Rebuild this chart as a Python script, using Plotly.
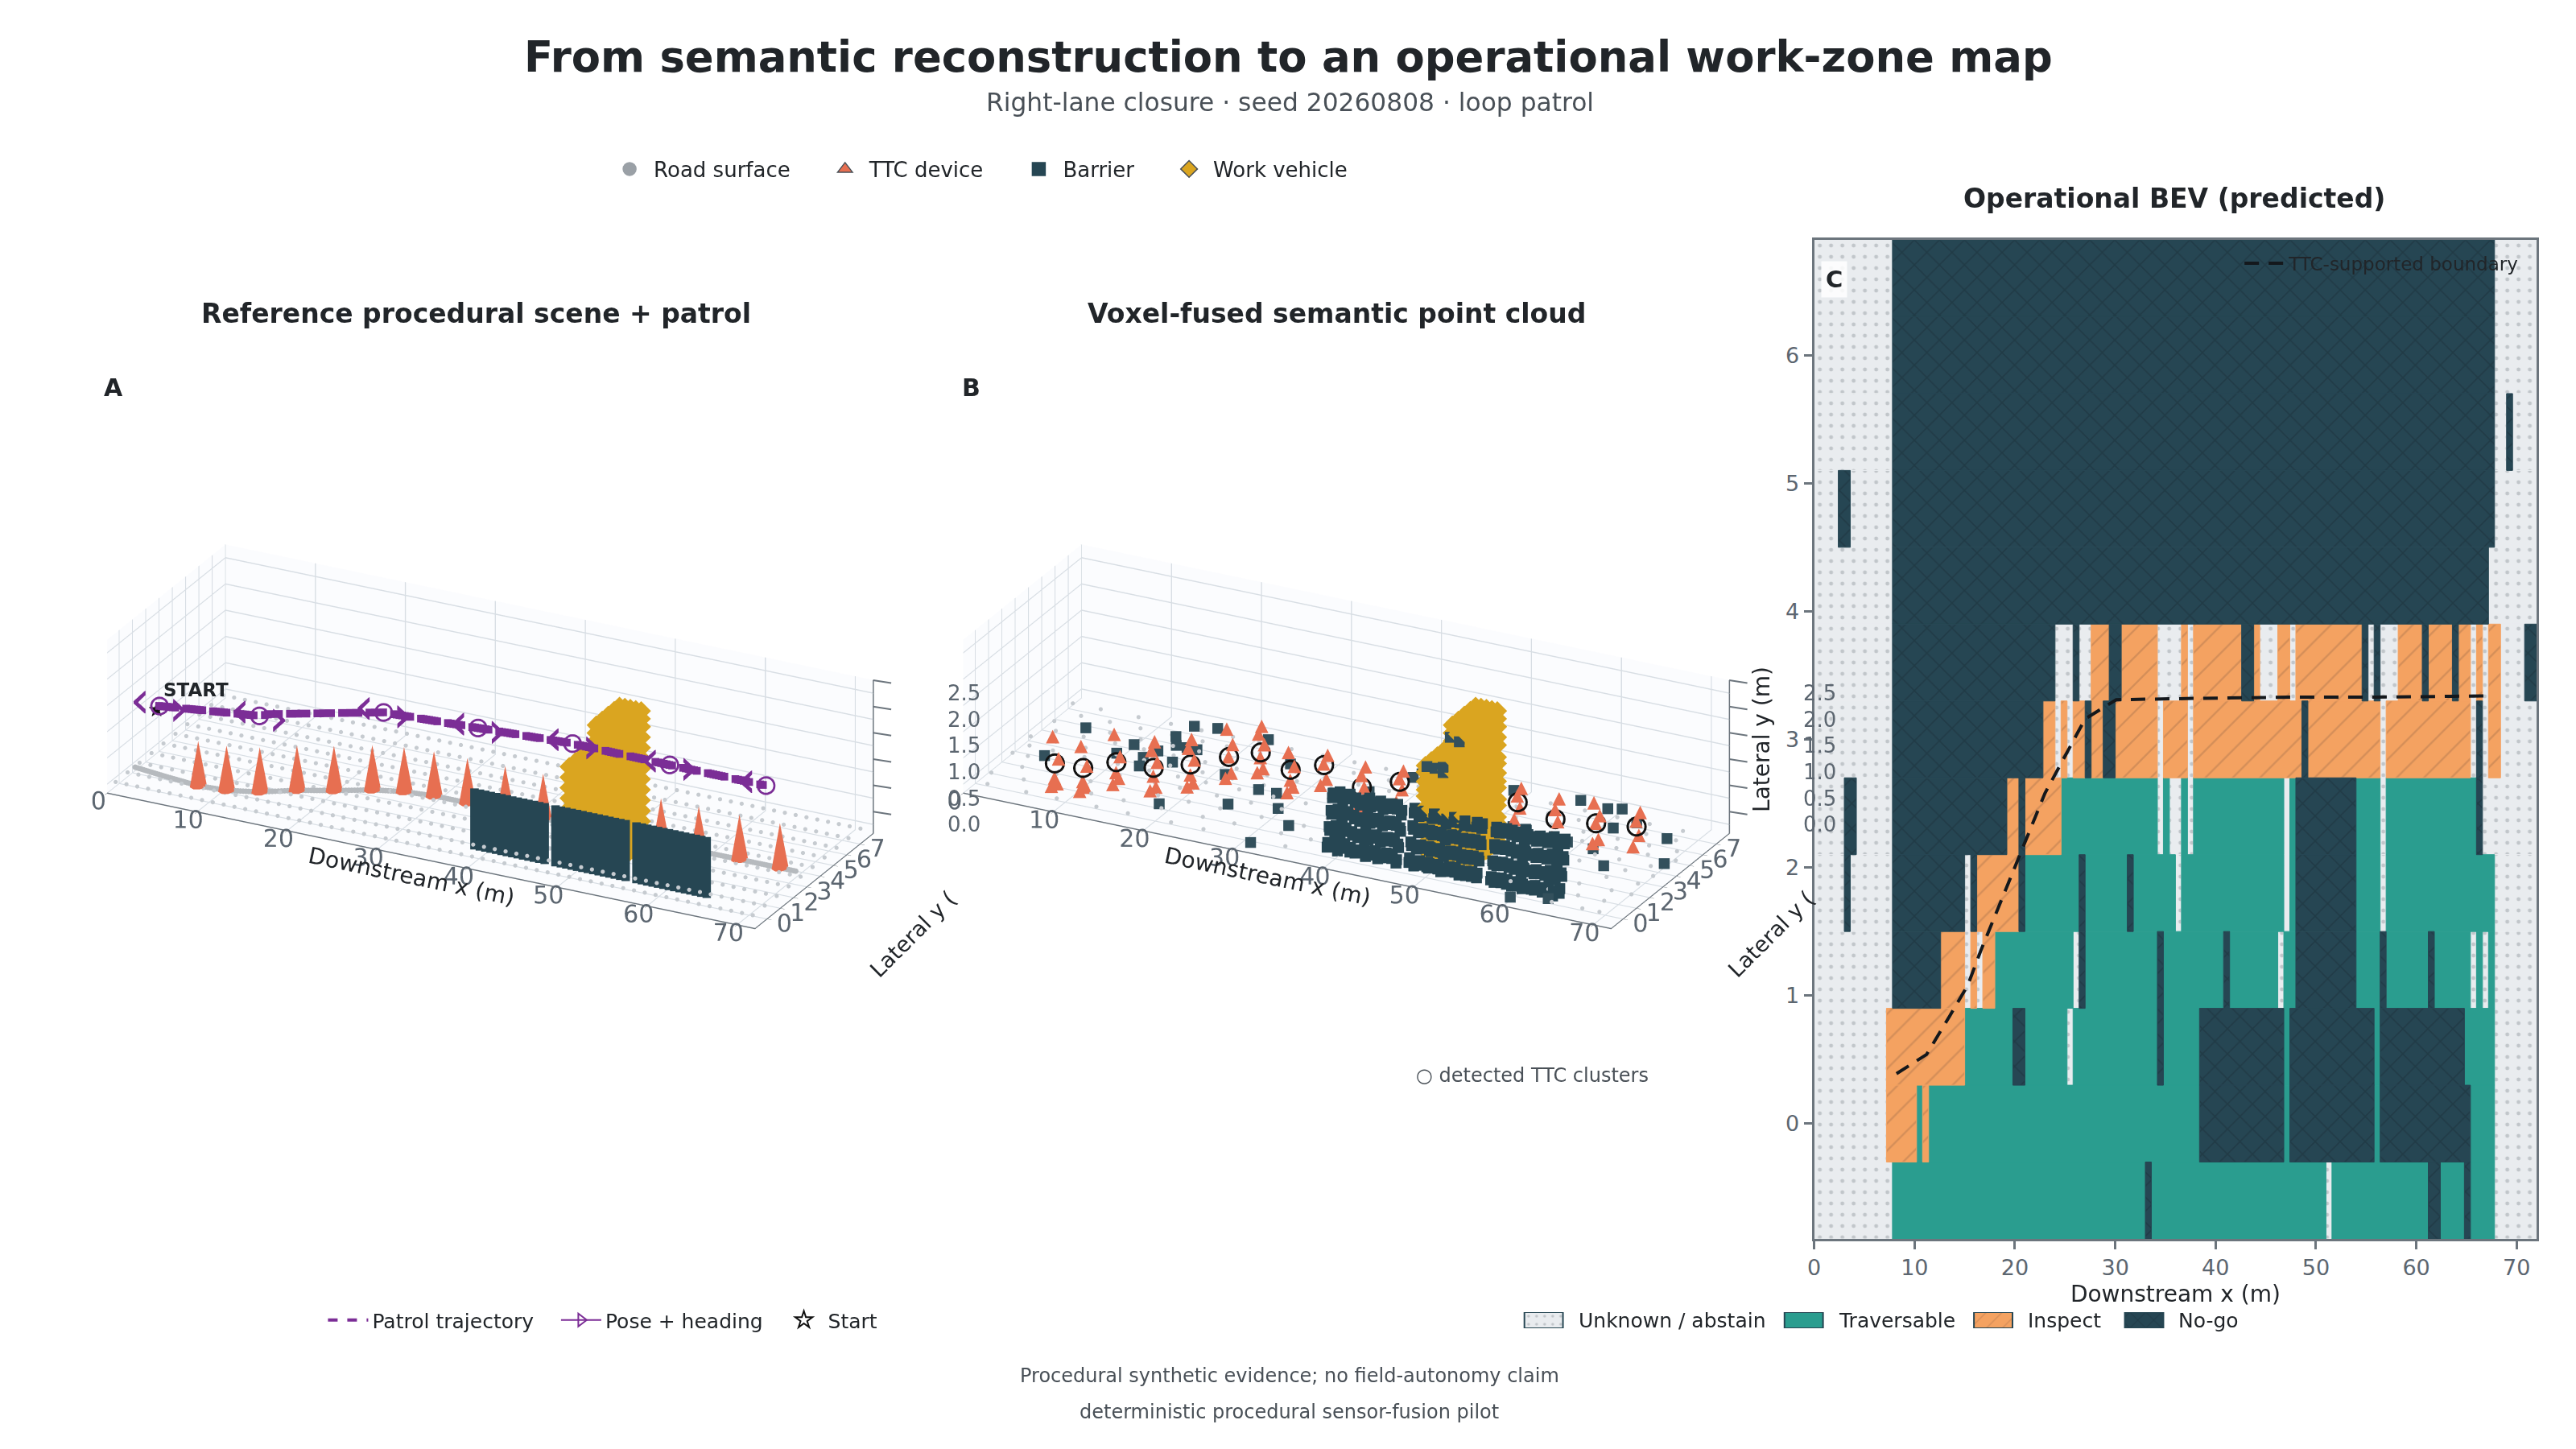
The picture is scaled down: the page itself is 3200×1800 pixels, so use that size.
import math
import plotly.graph_objects as go

# ── colours ───────────────────────────────────────────────────────────────────
INK = "#212529"
SLATE = "#495057"
TICK = "#5C6670"
EDGE = "#6C757D"
GRID = "#D8DEE4"
PANE = "#FBFCFE"
ROAD = "#9AA0A6"
ROAD_DOT = "#C6CBD0"
TTC = "#E76F51"
BARRIER = "#264653"
VEHICLE = "#DAA520"
PATROL = "#7B2D96"
FONT = "DejaVu Sans"

# ── BEV grid: 0.6 m cells, each row as run lengths of a class ────────────────
CELL = 0.6
BEV_Y = [6.6, 6.0, 5.4, 4.8, 4.2, 3.6, 3.0, 2.4, 1.8, 1.2, 0.6, 0.0, -0.6]
BEV_RUNS = [
    "U13 N100 U7",
    "U13 N100 U7",
    "U13 N100 U2 N1 U4",
    "U4 N2 U7 N100 U7",
    "U13 N99 U8",
    "U13 N27 U3 N1 U2 I3 N2 I6 U4 I1 U1 I8 N2 I1 U3 I2 U1 I11 N1 U1 N1 U3 I4 N1 I4 N1 I2 U1 I1 U1 I2 U4 N2",
    "U13 N25 I2 U1 I1 U1 I2 N1 I2 N2 I7 U1 I4 U1 I18 N1 I12 U1 I14 U1 N1 U1 I2 U6",
    "U5 N2 U6 N19 I2 N1 I6 T16 U1 T1 U2 T1 U1 T15 U1 T1 N10 T4 U1 T15 N1 U9",
    "U5 N1 U7 N12 U1 N1 I7 N1 T9 N1 T7 N1 T7 U1 T17 U1 T1 N10 T4 U1 T18 U7",
    "U13 N8 I4 U1 I1 U1 I2 T13 U1 N1 T12 N1 T10 N1 T8 U1 T2 N10 T4 N1 T7 N1 T6 U1 T1 U1 T1 U7",
    "U12 I13 T8 N2 T7 U1 T14 N1 T6 N14 T1 N14 T1 N14 T5 U7",
    "U12 I5 T1 I1 T45 N14 T1 N14 T1 N15 T4 U7",
    "U13 T42 N1 T29 U1 T16 N2 T4 N1 T4 U7",
]
BOUNDARY_X = [8.2, 11.2, 13.5, 15.3, 16.6, 17.9, 20.4, 23.0, 27.0, 30.1, 37.8, 47.4, 56.0, 67.3]
BOUNDARY_Y = [0.39, 0.54, 0.84, 1.08, 1.35, 1.60, 2.08, 2.58, 3.16, 3.31, 3.32, 3.33, 3.33, 3.34]

# ── 3D scene values ───────────────────────────────────────────────────────────
TTC_X = [8.2, 11.2, 14.3, 17.4, 20.7, 24.0, 27.0, 30.1, 33.8, 38.0, 42.2, 46.5, 51.0, 55.3, 59.5, 64.0, 68.5]
TTC_Y = [0.4, 0.5, 0.9, 1.6, 2.15, 2.8, 3.16, 3.31, 3.32, 3.32, 3.33, 3.33, 3.33, 3.33, 3.33, 3.34, 3.34]
CONE_H = 0.85
CONE_RX = 0.8
CONE_RY = 0.35

GROUND_X = [0.6, 4.0, 8.2, 11.2, 14.3, 17.4, 20.7, 24.0, 27.0, 30.1, 38.0, 46.5, 55.3, 64.0, 70.5]
GROUND_Y = [0.8, 0.6, 0.4, 0.5, 0.9, 1.6, 2.15, 2.8, 3.16, 3.31, 3.32, 3.33, 3.33, 3.34, 3.34]

ROAD_X = [0.5, 1.7, 2.9, 4.1, 5.3, 6.5, 7.7, 8.9, 10.1, 11.3, 12.5, 13.7, 14.9, 16.1, 17.3, 18.5, 19.7, 20.9,
          22.1, 23.3, 24.5, 25.7, 26.9, 28.1, 29.3, 30.5, 31.7, 32.9, 34.1, 35.3, 36.5, 37.7, 38.9, 40.1,
          41.3, 42.5, 43.7, 44.9, 46.1, 47.3, 48.5, 49.7, 50.9, 52.1, 53.3, 54.5, 55.7, 56.9, 58.1, 59.3,
          60.5, 61.7, 62.9, 64.1, 65.3, 66.5, 67.7, 68.9, 70.1, 71.3]
ROAD_Y = [-0.6, 0.3, 1.2, 2.1, 3.0, 3.9, 4.8, 5.7, 6.6, 7.5]

BARRIER_A_X = [38.6, 39.2, 39.8, 40.4, 41.0, 41.6, 42.2, 42.8, 43.4, 44.0, 44.6, 45.2, 45.8, 46.4,
               47.6, 48.2, 48.8, 49.4, 50.0, 50.6, 51.2, 51.8, 52.4, 53.0, 53.6, 54.2, 54.8, 55.4,
               56.6, 57.2, 57.8, 58.4, 59.0, 59.6, 60.2, 60.8, 61.4, 62.0, 62.6, 63.2, 63.8, 64.4]
BARRIER_A_Z = [-0.08, 0.02, 0.12, 0.22, 0.32, 0.42, 0.52, 0.62, 0.72, 0.82, 0.92]
BARRIER_Y = 0.6

BODY_X = [48.6, 49.2, 49.8, 50.4, 51.0, 51.6, 52.2, 52.8, 53.4, 54.0]
BODY_Y = [0.95, 1.4, 1.85, 2.3, 2.7]
BODY_Z = [0.1, 0.3, 0.5, 0.7, 0.9, 1.1, 1.3, 1.5, 1.7]
CAB_X = [51.6, 52.2, 52.8, 53.4, 54.0]
CAB_Z = [1.9, 2.1, 2.3, 2.45, 2.6]

# poses along the patrol, and the line between them
PATROL_X = [3.7, 14.8, 16.1, 28.6, 39.1, 49.6, 60.4, 71.1]
PATROL_Y = [0.5, 0.5, 0.5, 0.5, 0.5, 0.5, 0.5, 0.5]
PATROL_Z = [1.34, 1.55, 1.63, 2.11, 2.19, 2.27, 2.25, 2.24]
POSE_X = [3.7, 14.8, 28.6, 39.1, 49.6, 60.4, 71.1]
POSE_Y = [0.5, 0.5, 0.5, 0.5, 0.5, 0.5, 0.5]
POSE_Z = [1.34, 1.55, 2.11, 2.19, 2.27, 2.25, 2.24]
CHEVRON_DX = 2.2

# panel B, fused cloud
B_ROAD_Y = [-0.5, 0.4, 1.3, 2.2, 3.0, 3.7, 4.5, 5.2, 6.0, 6.8]
B_ROAD_X = [
    [2.1, 6.4, 9.8, 14.2, 17.7, 22.5, 26.1, 31.6, 35.2, 60.3, 64.8, 68.2, 70.1],
    [1.2, 4.8, 8.6, 12.3, 15.9, 20.1, 24.7, 28.2, 33.4, 36.7, 58.9, 63.1, 66.4, 69.3],
    [3.3, 7.1, 10.9, 13.6, 18.4, 21.8, 25.3, 29.9, 34.6, 37.3, 56.2, 59.7, 65.2, 68.8, 71.0],
    [0.9, 2.6, 5.9, 9.2, 12.8, 16.7, 19.5, 23.6, 27.4, 30.8, 35.9, 39.4, 44.1, 56.8, 61.6, 66.9, 70.4],
    [1.6, 4.2, 7.7, 11.4, 14.9, 18.1, 21.2, 24.9, 28.7, 32.3, 36.1, 40.7, 44.6, 47.5, 55.3, 58.4, 62.7, 67.8, 70.9],
    [0.7, 3.5, 6.8, 10.2, 13.3, 16.2, 19.8, 23.1, 26.6, 29.4, 33.8, 37.6, 41.2, 45.3, 55.9, 59.2, 63.4, 66.1, 69.6],
    [2.3, 5.4, 8.9, 12.1, 15.4, 18.9, 22.4, 25.8, 29.1, 32.9, 36.4, 39.9, 43.2, 46.8, 49.9, 53.6, 57.1, 60.8, 64.6, 68.1, 71.2],
    [1.1, 4.5, 7.3, 10.7, 14.3, 17.2, 20.6, 24.2, 27.9, 31.2, 34.9, 38.3, 41.9, 45.8, 48.7, 52.4, 56.4, 59.9, 63.7, 67.2, 70.3],
    [2.9, 6.1, 9.5, 13.0, 16.4, 19.1, 22.8, 26.4, 30.1, 33.2, 37.1, 40.4, 44.4, 47.9, 51.3, 54.8, 58.2, 61.9, 65.7, 69.0],
    [0.8, 3.9, 8.1, 11.7, 15.1, 18.6, 21.5, 25.1, 28.6, 32.1, 35.6, 39.2, 42.8, 46.2, 50.2, 53.9, 57.7, 61.3, 64.9, 68.6],
]
# triangle heights per device, relative to a cluster centred on 0.5
B_TTC_Z = [
    [0.05, 0.12, 0.22, 0.6, 1.0], [0.04, 0.14, 0.24, 0.55, 0.9], [0.06, 0.2, 0.3, 0.62, 1.02],
    [0.05, 0.14, 0.34, 0.62, 0.82, 1.0], [0.06, 0.16, 0.3, 0.6, 0.8, 0.98], [0.08, 0.2, 0.5, 0.75, 1.02],
    [0.1, 0.2, 0.4, 0.66, 0.84, 1.0], [0.05, 0.18, 0.3, 0.58, 0.82], [0.1, 0.24, 0.52, 0.7],
    [0.12, 0.5, 0.72, 0.9], [0.1, 0.36, 0.56, 0.72], [0.1, 0.4, 0.6], [0.1, 0.4, 0.62],
    [0.16, 0.4, 0.62, 0.78], [0.14, 0.46, 0.68, 0.9], [0.1, 0.2, 0.5, 0.66, 0.88], [0.1, 0.34, 0.6, 0.78],
]
B_TTC_DX = [-0.35, 0.3, 0.0, 0.45, -0.2, 0.15]
CLUSTER_Z = [0.43, 0.43, 0.57, 0.43, 0.5, 0.63, 0.75, 0.5, 0.72, 0.45, 0.7, 0.6, 0.7, 0.78, 0.61, 0.69, 0.79]

NOISE_X = [4.6, 4.0, 10.1, 10.7, 12.9, 13.5, 13.5, 14.5, 13.5, 16.0, 15.7, 16.8, 14.0, 16.3, 22.0, 26.6, 22.0,
           26.6, 28.6, 19.4, 25.5, 30.4, 33.2, 31.7, 36.6, 38.9, 39.3, 40.1, 49.2, 56.2, 59.5, 60.8, 59.6,
           62.1, 63.6, 68.0, 70.5, 65.4, 62.6, 60.6, 64.1, 54.5, 53.1, 44.9, 51.6, 52.6, 49.0, 49.9, 50.8, 50.8]
NOISE_Y = [5.2, 2.5, 3.8, 4.7, 3.9, 3.2, 5.95, 5.3, 4.6, 4.0, 5.3, 5.3, 7.0, 7.2, 7.15, 5.7, 3.9, 3.3, 3.3,
           0.7, 1.75, 2.2, 1.1, -0.75, 4.85, 6.6, 7.0, 7.2, 7.2, 7.5, 7.3, 7.5, 4.2, 5.95, 6.7, 6.0, 4.1, 3.0,
           4.1, -0.78, -0.3, 4.5, 4.5, 4.7, 0.8, 0.8, 0.8, 0.8, 0.8, 0.8]
NOISE_Z = [0.0, 0.0, 0.0, 0.0, 0.0, 0.0, 0.0, 0.0, 0.0, 0.0, 0.0, 0.0, 0.0, 0.0, 0.0, 0.0, 0.0, 0.0, 0.0,
           0.0, 0.0, 0.0, 0.0, 0.0, 0.0, 0.0, 0.0, 0.0, 0.0, 0.0, 0.0, 0.0, 0.0, 0.0, 0.0, 0.0, 0.0, 0.0,
           0.0, 0.0, 0.0, 0.0, 0.0, 0.0, 2.4, 2.35, 1.75, 1.75, 1.8, 1.7]

B_BARRIER_X = [38.5, 39.1, 39.8, 40.3, 41.1, 41.6, 42.4, 42.9, 43.7, 44.2, 45.0, 45.5, 46.3,
               47.5, 48.2, 48.7, 49.4, 49.9, 50.7, 51.2, 52.0, 52.5, 53.3, 53.8, 54.6, 55.1,
               56.5, 57.2, 57.7, 58.5, 59.0, 59.8, 60.3, 61.1, 61.6, 62.4, 62.9, 63.7, 64.2]
B_BARRIER_Z = [-0.08, 0.0, 0.2, 0.28, 0.48, 0.56, 0.78, 0.86]
B_BARRIER_Y = [0.4, 0.45, 0.6, 0.55, 0.75, 0.7, 0.8, 0.85]
B_BARRIER_DZ = [0.0, 0.02, -0.01, 0.03, 0.01, -0.03, 0.02]
B_BARRIER_DY = [0.0, 0.12, -0.1, 0.06, -0.05]

B_BODY_Z = [0.12, 0.24, 0.46, 0.58, 0.8, 0.92, 1.14, 1.26, 1.42, 1.6, 1.72]
B_CAB_Z = [1.95, 2.1, 2.3, 2.45, 2.6]

Z_TICK_VALS = [0.0, 0.5, 1.0, 1.5, 2.0, 2.5]
Z_TICKS = ["0.0", "0.5", "1.0", "1.5", "2.0", "2.5"]

# ── figure text ───────────────────────────────────────────────────────────────
TITLE = "From semantic reconstruction to an operational work-zone map"
SUBTITLE = "Right-lane closure · seed 20260808 · loop patrol"
FOOT_1 = "Procedural synthetic evidence; no field-autonomy claim"
FOOT_2 = "deterministic procedural sensor-fusion pilot"
PAD = "\u00a0" * 4


def cross_xy(xs, ys):
    px, py = [], []
    for y in ys:
        for x in xs:
            px.append(x)
            py.append(y)
    return px, py


def cross_xyz(xs, ys, zs):
    px, py, pz = [], [], []
    for z in zs:
        for y in ys:
            for x in xs:
                px.append(x)
                py.append(y)
                pz.append(z)
    return px, py, pz


def cone_mesh(xs, ys, scene):
    vx, vy, vz, i, j, k = [], [], [], [], [], []
    sides = 8
    for cx, cy in zip(xs, ys):
        start = len(vx)
        for s in range(sides):
            a = 2 * math.pi * s / sides
            vx.append(cx + CONE_RX * math.cos(a))
            vy.append(cy + CONE_RY * math.sin(a))
            vz.append(0.0)
        vx.append(cx)
        vy.append(cy)
        vz.append(CONE_H)
        for s in range(sides):
            i.append(start + s)
            j.append(start + (s + 1) % sides)
            k.append(start + sides)
    return go.Mesh3d(x=vx, y=vy, z=vz, i=i, j=j, k=k, color=TTC, flatshading=True,
                     lighting=dict(ambient=1, diffuse=0, specular=0), showlegend=False, scene=scene, hoverinfo="skip")


def chain(xs, ys, zs, step, on=None, off=None):
    # sample a polyline into marker positions; gl lines stay thin and dash badly
    px, py, pz = [], [], []
    dist = 0.0
    for a in range(len(xs) - 1):
        seg = math.dist((xs[a], ys[a]), (xs[a + 1], ys[a + 1]))
        n = max(1, int(seg / step))
        for s in range(n):
            t = s / n
            keep = on is None or (dist + t * seg) % (on + off) < on
            if keep:
                px.append(xs[a] + t * (xs[a + 1] - xs[a]))
                py.append(ys[a] + t * (ys[a + 1] - ys[a]))
                pz.append(zs[a] + t * (zs[a + 1] - zs[a]))
        dist += seg
    return px, py, pz


fig = go.Figure()

# panel C: every run of cells becomes a bar
classes = {
    "U": dict(name="Unknown / abstain", color="#E9ECEF", shape=".", fg="#9AA0A6", size=14, sol=0.1),
    "T": dict(name="Traversable", color="#2A9D8F", shape="", fg="#2A9D8F", size=10, sol=0.1),
    "I": dict(name="Inspect", color="#F4A261", shape="/", fg="#B57A50", size=24, sol=0.1),
    "N": dict(name="No-go", color=BARRIER, shape="x", fg="#1B2F3A", size=22, sol=0.14),
}
runs = {c: dict(y=[], base=[], w=[]) for c in classes}
for row_y, row in zip(BEV_Y, BEV_RUNS):
    col = 0
    for tok in row.split():
        n = int(tok[1:])
        r = runs[tok[0]]
        r["y"].append(row_y)
        r["base"].append(col * CELL)
        r["w"].append(n * CELL)
        col += n

for c, st in classes.items():
    fig.add_trace(go.Bar(
        x=runs[c]["w"], y=runs[c]["y"], base=runs[c]["base"], orientation="h", width=CELL,
        name=st["name"], showlegend=False,
        marker=dict(color=st["color"], line=dict(width=1, color=st["color"]),
                    pattern=dict(shape=st["shape"], fgcolor=st["fg"], bgcolor=st["color"],
                                 size=st["size"], solidity=st["sol"], fillmode="overlay")),
    ))

fig.add_trace(go.Scatter(x=BOUNDARY_X, y=BOUNDARY_Y, mode="lines", name="TTC-supported boundary",
                         legend="legend4", line=dict(color="#14181C", width=4, dash="18px,12px")))

# legend swatches for the classes, bar legend icons can not be resized
SWATCH_X = [1890, 2214, 2450, 2638]
SWATCH_TEXT_X = [1955, 2279, 2515, 2703]
for c, sx in zip(classes, SWATCH_X):
    st = classes[c]
    fig.add_trace(go.Bar(
        x=[48], y=[0.5], base=[sx], orientation="h", width=1, showlegend=False, xaxis="x2", yaxis="y2",
        marker=dict(color=st["color"], line=dict(width=2, color=BARRIER),
                    pattern=dict(shape=st["shape"], fgcolor=st["fg"], bgcolor=st["color"],
                                 size=14 if c != "U" else 10, solidity=st["sol"], fillmode="overlay")),
    ))

# legend-only entries for the 3D marks, scatter3d has no triangle or star symbol
legend_marks = [
    ("Road surface" + PAD, "circle", ROAD, None),
    ("TTC device" + PAD, "triangle-up", TTC, SLATE),
    ("Barrier" + PAD, "square", BARRIER, None),
    ("Work vehicle", "diamond", VEHICLE, SLATE),
]
for name, symbol, color, edge in legend_marks:
    fig.add_trace(go.Scatter(x=[None], y=[None], mode="markers", name=name, legend="legend",
                             marker=dict(symbol=symbol, color=color, size=16,
                                         line=dict(color=edge or color, width=1.5))))
fig.add_trace(go.Scatter(x=[None], y=[None], mode="lines", name="Patrol trajectory\u00a0\u00a0\u00a0", legend="legend2",
                         line=dict(color=PATROL, width=4, dash="dash")))
fig.add_trace(go.Scatter(x=[None], y=[None], mode="lines+markers", name="Pose + heading\u00a0\u00a0", legend="legend2",
                         line=dict(color=PATROL, width=2),
                         marker=dict(symbol="triangle-right-open", color=PATROL, size=14, line=dict(width=2))))
fig.add_trace(go.Scatter(x=[None], y=[None], mode="markers", name="Start", legend="legend2",
                         marker=dict(symbol="star-open", color="#111111", size=16, line=dict(width=2))))

# panel A
road_x, road_y = cross_xy(ROAD_X, ROAD_Y)
fig.add_trace(go.Scatter3d(x=road_x, y=road_y, z=[0.0] * len(road_x), mode="markers", scene="scene", showlegend=False,
                           marker=dict(color=ROAD_DOT, size=3, symbol="circle")))
gx, gy, gz = chain(GROUND_X, GROUND_Y, [0.0] * len(GROUND_X), 0.25)
fig.add_trace(go.Scatter3d(x=gx, y=gy, z=gz, mode="markers", scene="scene", showlegend=False,
                           marker=dict(color="#B6BABE", size=4, symbol="circle")))
fig.add_trace(cone_mesh(TTC_X, TTC_Y, "scene"))
bx, by, bz = cross_xyz(BARRIER_A_X, [BARRIER_Y], BARRIER_A_Z)
fig.add_trace(go.Scatter3d(x=bx, y=by, z=bz, mode="markers", scene="scene", showlegend=False,
                           marker=dict(color=BARRIER, size=5.5, symbol="square")))
vx, vy, vz = cross_xyz(BODY_X, BODY_Y, BODY_Z)
cx, cy, cz = cross_xyz(CAB_X, BODY_Y, CAB_Z)
fig.add_trace(go.Scatter3d(x=vx + cx, y=vy + cy, z=vz + cz, mode="markers", scene="scene", showlegend=False,
                           marker=dict(color=VEHICLE, size=8, symbol="diamond")))
px, py, pz = chain(PATROL_X, PATROL_Y, PATROL_Z, 0.3, on=2.0, off=0.9)
fig.add_trace(go.Scatter3d(x=px, y=py, z=pz, mode="markers", scene="scene", showlegend=False,
                           marker=dict(color=PATROL, size=5, symbol="square")))
fig.add_trace(go.Scatter3d(x=POSE_X, y=POSE_Y, z=POSE_Z, mode="markers", scene="scene", showlegend=False,
                           marker=dict(color=PATROL, size=13, symbol="circle-open", line=dict(color=PATROL, width=2))))
fig.add_trace(go.Scatter3d(x=[x - CHEVRON_DX for x in POSE_X], y=POSE_Y, z=POSE_Z, mode="text", text=["‹"] * len(POSE_X),
                           textposition="middle center", scene="scene", showlegend=False,
                           textfont=dict(color=PATROL, size=66, family=FONT)))
fig.add_trace(go.Scatter3d(x=[x + CHEVRON_DX for x in POSE_X], y=POSE_Y, z=POSE_Z, mode="text", text=["›"] * len(POSE_X),
                           textposition="middle center", scene="scene", showlegend=False,
                           textfont=dict(color=PATROL, size=66, family=FONT)))
fig.add_trace(go.Scatter3d(x=[POSE_X[0] - 0.3], y=[POSE_Y[0]], z=[POSE_Z[0] - 0.07], mode="text", text=["★"],
                           textposition="middle center", scene="scene", showlegend=False,
                           textfont=dict(color="#111111", size=26, family=FONT)))

# panel B
nx, ny = [], []
for y, xs in zip(B_ROAD_Y, B_ROAD_X):
    nx += xs
    ny += [y] * len(xs)
fig.add_trace(go.Scatter3d(x=nx, y=ny, z=[0.0] * len(nx), mode="markers", scene="scene2", showlegend=False,
                           marker=dict(color=ROAD_DOT, size=3, symbol="circle")))
tx, ty, tz = [], [], []
for dev_x, dev_y, zs, cz0 in zip(TTC_X, TTC_Y, B_TTC_Z, CLUSTER_Z):
    for n, z in enumerate(zs):
        tx.append(dev_x + B_TTC_DX[n])
        ty.append(dev_y)
        tz.append(z + cz0 - 0.5)
fig.add_trace(go.Scatter3d(x=tx, y=ty, z=tz, mode="text", text=["▲"] * len(tx), textposition="middle center",
                           scene="scene2", showlegend=False, textfont=dict(color=TTC, size=22, family=FONT)))
fig.add_trace(go.Scatter3d(x=TTC_X, y=TTC_Y, z=CLUSTER_Z, mode="markers", scene="scene2", showlegend=False,
                           marker=dict(color="#111111", size=14, symbol="circle-open", line=dict(color="#111111", width=2))))
bbx, bby, bbz = [], [], []
for y, z in zip(B_BARRIER_Y, B_BARRIER_Z):
    for n, x in enumerate(B_BARRIER_X):
        bbx.append(x)
        bby.append(y + B_BARRIER_DY[n % 5])
        bbz.append(z + B_BARRIER_DZ[n % 7])
fig.add_trace(go.Scatter3d(x=bbx, y=bby, z=bbz, mode="markers", scene="scene2", showlegend=False,
                           marker=dict(color=BARRIER, size=7, symbol="square")))
vx2, vy2, vz2 = cross_xyz(BODY_X, BODY_Y, B_BODY_Z)
cx2, cy2, cz2 = cross_xyz(CAB_X, BODY_Y, B_CAB_Z)
fig.add_trace(go.Scatter3d(x=vx2 + cx2, y=vy2 + cy2, z=vz2 + cz2, mode="markers", scene="scene2", showlegend=False,
                           marker=dict(color=VEHICLE, size=8, symbol="diamond")))
fig.add_trace(go.Scatter3d(x=NOISE_X, y=NOISE_Y, z=NOISE_Z, mode="markers", scene="scene2", showlegend=False,
                           marker=dict(color="#33505C", size=7, symbol="square")))

# the z axis stands on the right in the picture, plotly would put it on the left
for sc in ["scene", "scene2"]:
    fig.add_trace(go.Scatter3d(x=[72, 72], y=[8.0, 8.0], z=[-0.17, 2.75], mode="lines", scene=sc, showlegend=False,
                               line=dict(color=EDGE, width=3)))


def axis3d(title, ticks, rng, labels=True):
    return dict(
        title=dict(text=title, font=dict(family=FONT, size=28, color=INK)),
        range=rng, tickvals=ticks, ticktext=[str(t) for t in ticks], tickangle=0,
        tickfont=dict(family=FONT, size=19, color=TICK), showticklabels=labels,
        gridcolor=GRID, gridwidth=3, backgroundcolor=PANE, showbackground=True,
        showline=labels, linecolor=EDGE, linewidth=3, ticks="outside" if labels else "", tickcolor=EDGE, ticklen=6,
        zeroline=False, showspikes=False,
    )


def z_tick_notes():
    notes = []
    for tick, val in zip(Z_TICKS, Z_TICK_VALS):
        notes.append(dict(x=72, y=8.0, z=val, text=" ", showarrow=True, arrowhead=0, arrowcolor=EDGE, arrowwidth=2,
                          ax=26, ay=4, standoff=0, yshift=16))
        notes.append(dict(x=72, y=8.0, z=val, text=tick, showarrow=False, xanchor="left", yanchor="top",
                          xshift=90, yshift=17, font=dict(family=FONT, size=26, color=TICK)))
    return notes


def scene3d(dom):
    y_axis = axis3d("", [0, 1, 2, 3, 4, 5, 6, 7], [-0.9, 8.0])
    return dict(
        domain=dict(x=dom, y=[1 - 1393 / 1800, 1 - 437 / 1800]),
        bgcolor="rgba(0,0,0,0)",
        aspectmode="manual",
        aspectratio=dict(x=1.89, y=0.677, z=0.437),
        camera=dict(eye=dict(x=1.04, y=-2.04, z=1.03), up=dict(x=0, y=0, z=1), center=dict(x=0, y=0, z=0),
                    projection=dict(type="orthographic")),
        xaxis=axis3d("Downstream x (m)", [0, 10, 20, 30, 40, 50, 60, 70], [0, 72]),
        yaxis=y_axis,
        zaxis=axis3d("", [0.0, 0.5, 1.0, 1.5, 2.0, 2.5], [-0.17, 2.75], labels=False),
        annotations=z_tick_notes(),
    )


scene_a = scene3d([18 / 3200, 1185 / 3200])
scene_a["annotations"].append(dict(x=7.8, y=0.5, z=1.79, text="<b>START</b>", showarrow=False,
                                   font=dict(family=FONT, size=23, color=INK)))
scene_b = scene3d([1082 / 3200, 2254 / 3200])

annotations = [
    dict(x=1596 / 3200, y=1 - 71 / 1800, text=f"<b>{TITLE}</b>", font=dict(size=52.8, color=INK)),
    dict(x=1598 / 3200, y=1 - 127 / 1800, text=SUBTITLE, font=dict(size=31.3, color=SLATE)),
    dict(x=584 / 3200, y=1 - 389 / 1800, text="<b>Reference procedural scene + patrol</b>", font=dict(size=33, color=INK)),
    dict(x=1656 / 3200, y=1 - 389 / 1800, text="<b>Voxel-fused semantic point cloud</b>", font=dict(size=33, color=INK)),
    dict(x=2700 / 3200, y=1 - 246 / 1800, text="<b>Operational BEV (predicted)</b>", font=dict(size=33, color=INK)),
    dict(x=132 / 3200, y=1 - 481 / 1800, text="<b>A</b>", font=dict(size=30, color=INK)),
    dict(x=1201 / 3200, y=1 - 481 / 1800, text="<b>B</b>", font=dict(size=30, color=INK)),
    dict(x=2276 / 3200, y=1 - 347 / 1800, text="<b>C</b>", font=dict(size=29, color=INK),
         bgcolor="rgba(255,255,255,0.85)", borderpad=5),
    dict(x=1900 / 3200, y=1 - 1336 / 1800, text="○ detected TTC clusters", font=dict(size=24, color=SLATE)),
    dict(x=1597 / 3200, y=1 - 1709 / 1800, text=FOOT_1, font=dict(size=24, color=SLATE)),
    dict(x=1597 / 3200, y=1 - 1754 / 1800, text=FOOT_2, font=dict(size=24, color=SLATE)),
    # the lateral titles run off the edge of each 3D panel, as in the picture
    dict(x=1128 / 3200, y=1 - 1160 / 1800, text="Lateral y (", textangle=-45, font=dict(size=27, color=INK)),
    dict(x=2197 / 3200, y=1 - 1160 / 1800, text="Lateral y (", textangle=-45, font=dict(size=27, color=INK)),
]
for a in annotations:
    a.update(xanchor="center")
for c, tx_left in zip(classes, SWATCH_TEXT_X):
    annotations.append(dict(x=tx_left / 3200, y=1 - 1640 / 1800, text=classes[c]["name"], xanchor="left",
                            font=dict(size=25, color=INK)))
for a in annotations:
    a.update(xref="paper", yref="paper", showarrow=False, yanchor="middle")


def legend_box(x, y, **kw):
    base = dict(orientation="h", x=x, y=y, xanchor="center", yanchor="middle", bgcolor="rgba(0,0,0,0)",
                font=dict(family=FONT, size=26, color=INK), itemsizing="trace", traceorder="normal")
    base.update(kw)
    return base


fig.update_layout(
    width=3200, height=1800,
    margin=dict(l=0, r=0, t=0, b=0),
    paper_bgcolor="white", plot_bgcolor="white",
    font=dict(family=FONT, color=INK),
    barmode="overlay",
    showlegend=True,
    annotations=annotations,
    scene=scene_a,
    scene2=scene_b,
    xaxis=dict(domain=[2251 / 3200, 3151 / 3200], range=[0, 72], tickvals=[0, 10, 20, 30, 40, 50, 60, 70],
               ticks="outside", ticklen=10, tickwidth=3, tickcolor=EDGE, showgrid=False, zeroline=False,
               showline=True, mirror=True, linecolor=EDGE, linewidth=3,
               tickfont=dict(size=27, color=TICK),
               title=dict(text="Downstream x (m)", font=dict(size=28, color=INK), standoff=8)),
    yaxis=dict(domain=[1 - 1539 / 1800, 1 - 298 / 1800], range=[-0.9, 6.9], tickvals=[0, 1, 2, 3, 4, 5, 6],
               ticks="outside", ticklen=10, tickwidth=3, tickcolor=EDGE, showgrid=False, zeroline=False,
               showline=True, mirror=True, linecolor=EDGE, linewidth=3,
               tickfont=dict(size=27, color=TICK),
               title=dict(text="Lateral y (m)", font=dict(size=28, color=INK), standoff=12)),
    # strip under panel C that holds the class swatches, one unit is one pixel
    xaxis2=dict(domain=[1850 / 3200, 2850 / 3200], range=[1850, 2850], visible=False, anchor="y2"),
    yaxis2=dict(domain=[1 - 1650 / 1800, 1 - 1630 / 1800], range=[0, 1], visible=False, anchor="x2"),
    legend=legend_box(1210 / 3200, 1 - 210 / 1800, itemwidth=50),
    legend2=legend_box(742 / 3200, 1 - 1640 / 1800, itemwidth=50, font=dict(family=FONT, size=25, color=INK)),
    legend4=legend_box(2958 / 3200, 1 - 327 / 1800, itemwidth=50, font=dict(family=FONT, size=23, color=INK)),
)

fig.write_html("out.html", config=dict(displayModeBar=False),
               post_script="document.body.style.margin='0';")
